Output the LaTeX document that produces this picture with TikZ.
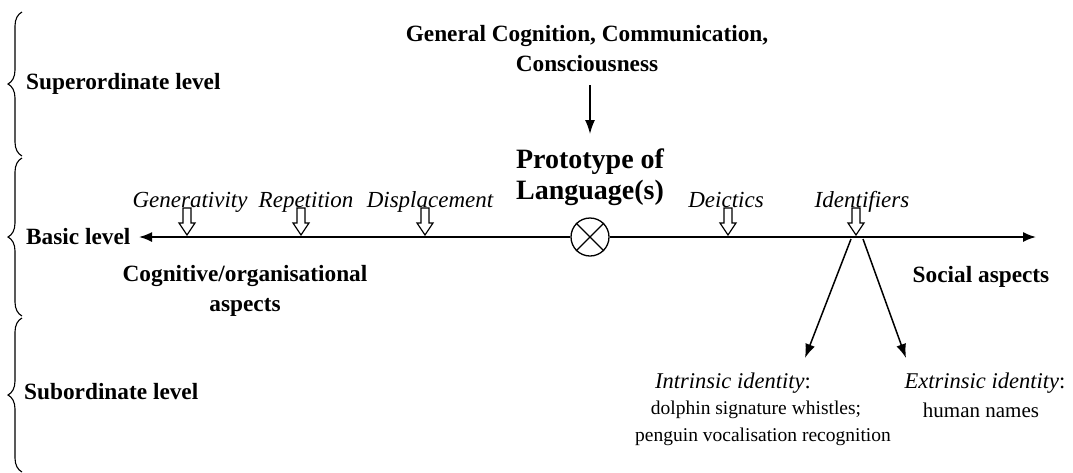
\documentclass[tikz,border=0pt]{standalone}
\usepackage{fontspec}
\setmainfont{Liberation Serif}
\usetikzlibrary{arrows.meta,decorations.pathreplacing,calc}
\begin{document}
\begin{tikzpicture}[x=1pt,y=-1pt,
  bld/.style={font=\fontsize{23.3}{30}\selectfont\bfseries, inner sep=0pt, align=center},
  big/.style={font=\fontsize{28}{31}\selectfont\bfseries, inner sep=0pt, align=center},
  itl/.style={font=\fontsize{23}{26}\selectfont\itshape, inner sep=0pt, anchor=base},
  reg/.style={font=\fontsize{19.5}{25}\selectfont, inner sep=0pt},
  regwide/.style={font=\fontsize{21}{25}\selectfont, inner sep=0pt},
  lvl/.style={font=\fontsize{23.3}{26}\selectfont\bfseries, inner sep=0pt, anchor=west},
  lvlbrace/.style={decorate, decoration={brace, amplitude=14pt}, line width=1.1pt},
  axisarrow/.style={line width=1.7pt, -{Latex[length=13pt,width=10pt]}},
  thinarrow/.style={line width=1.5pt, -{Latex[length=14pt,width=10pt]}},
  hollowarrow/.pic={\draw[line width=1.2pt, fill=white, line join=miter]
     (-4,-29) -- (4,-29) -- (4,-14) -- (8,-14) -- (0,-2) -- (-8,-14) -- (-4,-14) -- cycle;}
]
\useasboundingbox (0,0) rectangle (1073,472);

% level braces
\coordinate (b1t) at (22,12);  \coordinate (b1b) at (22,156);
\coordinate (b2t) at (22,158); \coordinate (b2b) at (22,316);
\coordinate (b3t) at (22,318); \coordinate (b3b) at (22,472);
\draw[lvlbrace] (b1b) -- (b1t);
\draw[lvlbrace] (b2b) -- (b2t);
\draw[lvlbrace] (b3b) -- (b3t);

\node[lvl] (sup) at (26,84) {Superordinate level};
\node[lvl] (bas) at (26,237) {Basic level};
\node[lvl] (sub) at (24,392) {Subordinate level};

% top
\node[bld] (gen) at (587,49) {General Cognition, Communication,\\Consciousness};
\node[big] (proto) at (590,177) {Prototype of\\Language(s)};
\draw[thinarrow] (590,85) -- (590,134);

% axis
\node[draw, circle, minimum size=38pt, line width=1.3pt, inner sep=0pt] (cross) at (590,237) {};
\draw[line width=1.3pt] (cross.45) -- (cross.225) (cross.135) -- (cross.315);
\coordinate (lend) at (139,237);
\coordinate (rend) at (1036,237);
\draw[axisarrow] (cross.west) -- (lend);
\draw[axisarrow] (cross.east) -- (rend);

% features
\coordinate (pg) at (187,237);
\coordinate (pr) at (301,237);
\coordinate (pd) at (425,237);
\coordinate (pde) at (728,237);
\coordinate (pid) at (856,237);
\foreach \p in {pg,pr,pd,pde,pid} { \pic at (\p) {hollowarrow}; }
\node[itl] (lg) at (190,207) {Generativity};
\node[itl] (lr) at (306,207) {Repetition};
\node[itl] (ld) at (430,207) {Displacement};
\node[itl] (lde) at (726,207) {Deictics};
\node[itl] (lid) at (862,207) {Identifiers};

\node[bld] (cog) at (245,291) {Cognitive/organisational\\aspects};
\node[bld] (soc) at (981,277) {Social aspects};

% subordinate
\coordinate (s1) at (851,239);
\coordinate (s2) at (863,239);
\coordinate (t1) at (805,358);
\coordinate (t2) at (906,358);
\draw[thinarrow] (s1) -- (t1);
\draw[thinarrow] (s2) -- (t2);

\node[reg, font=\fontsize{22.5}{25}\selectfont] (in1) at (733,383) {\textit{Intrinsic identity}:};
\node[reg] (in2) at (756,410) {dolphin signature whistles;};
\node[reg] (in3) at (763,437) {penguin vocalisation recognition};
\node[reg, font=\fontsize{22.5}{25}\selectfont] (ex1) at (985,383) {\textit{Extrinsic identity}:};
\node[regwide] (ex2) at (981,410) {human names};
\end{tikzpicture}
\end{document}
